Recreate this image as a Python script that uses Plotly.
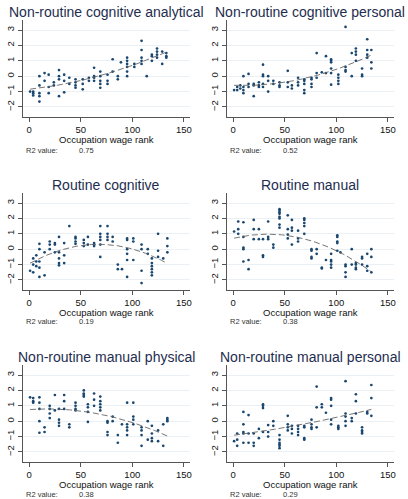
import numpy as np
import plotly.graph_objects as go

titles = ["Non-routine cognitive analytical", "Non-routine cognitive personal",
          "Routine cognitive", "Routine manual",
          "Non-routine manual physical", "Non-routine manual personal"]
r2_values = ["0.75", "0.52", "0.19", "0.38", "0.38", "0.29"]
x_ticks = [0, 50, 100, 150]
y_ticks = [-2, -1, 0, 1, 2, 3]

# (occupation wage rank, [task scores])
nrca_cols = [(1, [-1.0]), (4, [-1.0, -1.1, -1.25]), (10, [0.0, -0.6, -1.1, -1.3, -1.65]),
             (15, [0.2, -0.3]), (19, [0.1, -0.7, -1.1]), (24, [-0.4, -0.6]),
             (29, [0.4, 0.0, -0.2, -1.3]), (34, [0.1, -0.3, -1.05]), (39, [-0.1, -0.5]),
             (45, [-0.2, -0.4, -0.6, -0.75]), (52, [-0.2, -0.5, -0.85]), (58, [-0.1, -0.3]),
             (63, [0.55, 0.0, -0.1, -0.3]), (69, [0.3, 0.0, -0.3, -0.5, -0.75]),
             (76, [0.1, -0.3, -0.5]), (81, [1.1, 0.3]), (86, [0.0, -0.2]), (89, [0.9]),
             (95, [1.2, 1.0, 0.8, 0.6, 0.3, 0.0]), (102, [0.8, 0.6]),
             (109, [2.3, 1.7, 1.2, 1.0, 0.8]), (114, [0.0]), (119, [1.4, 1.3, 1.0]),
             (124, [1.8, 1.6, 1.4, 1.2]), (129, [1.6, 0.8]), (133, [1.5, 1.3, 1.2])]
nrcp_cols = [(1, [-0.9]), (4, [-0.7, -0.9]), (7, [-0.6, -0.8]), (10, [0.0, -0.7, -0.9, -1.1]),
             (15, [0.15, -0.5, -0.7]), (20, [-0.5, -0.6, -1.3]), (25, [-0.4, -0.6, -0.7]),
             (29, [0.75, 0.1, 0.0, -0.5, -0.7]), (34, [0.0, -0.3, -1.0]), (39, [-0.3, -0.5]),
             (45, [-0.4, -0.6, -0.7]), (53, [0.35, -0.4, -0.7]), (57, [-0.6, -0.8]),
             (63, [-0.1, -0.4, -0.6]), (69, [-0.2, -0.3, -0.5, -0.9, -1.1]),
             (76, [-0.1, -0.2, -0.5, -0.7]), (81, [1.5, 0.2, -0.1]), (86, [0.25]),
             (90, [1.3, 0.2]), (95, [1.1, 1.0, 0.9, 0.5, 0.2, -0.55]),
             (102, [0.1, -0.1, -0.3, -0.5]), (109, [3.2, 0.6, 0.4, 0.3]), (115, [1.5, 0.0]),
             (119, [1.8, 1.6, 1.4, 1.0]), (125, [0.5, 0.1, 0.0]), (130, [2.4, 1.7, 1.4, 1.2]),
             (134, [1.7, 0.9, 0.5])]
rc_cols = [(1, [-1.4]), (4, [-0.6, -1.0, -1.5]), (7, [-0.4, -0.8, -1.1]),
           (10, [0.35, 0.0, -0.8, -1.2, -1.8]), (15, [-0.2, -1.7]), (20, [0.5, 0.3, 0.0]),
           (25, [0.4, 0.3, -0.2]), (29, [0.8, -0.2, -0.6, -0.9, -1.05]), (34, [0.4, -0.4, -0.9]),
           (39, [1.5]), (45, [0.8, 0.7, 0.5, 0.35]), (53, [0.6, 0.4, 0.2]), (57, [0.8, 0.3]),
           (63, [0.4, 0.3, 0.2]), (69, [1.5, 1.0, 0.8, 0.6, 0.3, -0.5]),
           (76, [1.5, 1.0, 0.8, 0.6]), (81, [0.8, 0.5]), (86, [-1.0, -1.3]), (90, [-1.3]),
           (95, [0.7, 0.6, 0.0, -0.3, -0.7, -1.8]), (101, [0.7, 0.5, -0.7]),
           (109, [0.3, 0.0, -1.4, -2.2]), (115, [0.0, -0.3]),
           (119, [-0.6, -0.9, -1.1, -1.3, -1.5, -1.7]), (125, [1.0, -0.1, -0.5]),
           (130, [-0.6]), (134, [0.7, 0.2, -0.2])]
rm_cols = [(1, [1.15]), (5, [1.8, 1.3, 1.0]), (10, [1.75, 0.8, 0.1, 0.0, -0.8]),
           (15, [-0.7, -1.3]), (20, [1.9, 1.3, 0.65]), (25, [1.3, 0.65]),
           (29, [0.65, -0.4, -0.5]), (34, [1.8, 0.8, 0.65]), (39, [0.3, 0.1]),
           (45, [2.6, 2.5, 2.4, 2.3, 2.1, 2.0, 1.6, 1.4]), (53, [2.2, 1.3, 0.95, 0.7]),
           (57, [1.9, 1.4, 1.2, 0.3]), (63, [1.2, 0.7, 0.5]), (69, [2.0, 1.9, 1.7, 1.5, 1.0]),
           (76, [0.0, -0.1, -0.5, -0.6]), (81, [0.0, -0.3]), (86, [-1.2, -1.25]), (90, [-0.7]),
           (95, [-0.3, -0.7, -0.8, -1.0, -1.2]), (101, [0.9, 0.8, 0.5, 0.4, -0.1]),
           (104, [-0.2]), (109, [-1.0, -1.1, -1.5, -1.8]), (115, [0.0, -1.0]),
           (119, [-0.9, -1.0, -1.2, -1.3]), (125, [-0.5, -0.6, -1.0]),
           (130, [-0.3, -1.1, -1.4]), (134, [0.0, -0.5, -1.5])]
nrmph_cols = [(1, [1.55]), (4, [1.5, 1.3, 1.2]), (10, [1.55, 1.2, 0.8, 0.0, -0.75]),
              (15, [-0.4, -0.7]), (20, [1.0, 0.8, 0.5, 0.2]), (25, [1.7, 0.7]),
              (29, [0.8, 0.1, -0.1, -0.3]), (34, [1.7, 1.3, 0.8]), (39, [-0.2, -0.4]),
              (45, [1.2, 1.0, 0.8, 0.7]), (53, [2.0, 1.8, 1.7, 1.6]), (57, [1.1, 0.9, 0.6, -0.05]),
              (63, [1.8, 1.4, 1.0]), (69, [1.6, 1.3, 1.1, 0.9, 0.7]),
              (76, [0.0, -0.1, -0.7, -0.9]), (81, [0.3, 0.0]), (86, [-0.9, -1.4]), (90, [-0.2]),
              (95, [1.2, -0.2, -0.4, -0.6, -0.9]), (101, [1.2, 0.3, 0.1, -0.2]),
              (109, [-0.4, -0.6, -0.9, -1.6]), (115, [0.0, -1.2]),
              (119, [-0.3, -0.8, -1.1, -1.3]), (125, [-0.6, -1.3]), (130, [-0.2, -1.6]),
              (134, [0.2, 0.1, 0.0])]
nrmpe_cols = [(1, [-1.3]), (4, [-0.8, -1.2, -1.6]), (10, [0.6, -0.2, -0.7, -0.8, -1.4]),
              (15, [0.4, -0.8, -1.4]), (20, [-0.8, -1.4, -1.6]), (25, [-0.5, -1.1]),
              (29, [1.1, 1.0, 0.85, -0.7]), (34, [-0.25, -0.7, -1.0]), (39, [0.0, -0.3]),
              (45, [-0.9, -1.2, -1.4, -1.5, -1.6, -1.75]), (53, [0.35, -0.2, -0.4, -0.6]),
              (57, [-0.3, -0.5, -0.8]), (63, [-0.3, -0.5, -0.7, -0.9]),
              (69, [-0.3, -0.4, -1.1, -1.2]), (76, [0.1, -0.2, -0.4, -0.5]),
              (81, [2.25, 0.9, -0.4]), (86, [1.1, 0.9]), (90, [0.55]),
              (95, [1.5, 1.4, 1.0, 0.1, -0.2]), (102, [-0.3, -0.4, -0.5]),
              (109, [2.6, 0.5, 0.3, 0.0, -0.3]), (115, [0.2, 0.0]), (119, [1.75, 1.3, 0.5]),
              (125, [-0.4, -0.6, -0.7, -0.8]), (130, [0.6, 0.5]), (134, [2.35, 1.5, 0.35])]

panels = [nrca_cols, nrcp_cols, rc_cols, rm_cols, nrmph_cols, nrmpe_cols]

W, H = 408, 499
col_px = [(23, 191), (228, 396)]
row_px = [(20, 117), (193, 290), (365, 462)]
title_y = [12, 185, 357]
xtitle_y = [139.5, 312, 484.5]
r2_y = [150.5, 321.5, 494]
r2_label_x = [25, 230]
r2_val_x = [78, 283]

MARK = "#1a476f"
TITLE_C = "#1e2d4f"
AX_C = "#555555"
GRID_C = "#eaf0f3"
FONT = "Liberation Sans, Arial, sans-serif"

fig = go.Figure()
annotations = []
for i, cols in enumerate(panels):
    r, c = divmod(i, 2)
    xs = np.array([x for x, ys in cols for _ in ys], dtype=float)
    ys = np.array([y for _, yl in cols for y in yl], dtype=float)
    ax = "" if i == 0 else str(i + 1)
    coef = np.polyfit(xs, ys, 2)
    fx = np.linspace(xs.min(), xs.max(), 120)
    fy = np.polyval(coef, fx)
    fig.add_trace(go.Scatter(x=xs, y=ys, mode="markers",
                             marker=dict(size=2.7, color=MARK, line=dict(width=0)),
                             xaxis="x" + ax, yaxis="y" + ax, showlegend=False,
                             hoverinfo="skip"))
    fig.add_trace(go.Scatter(x=fx, y=fy, mode="lines",
                             line=dict(color="#666666", width=0.9, dash="6px,3px"),
                             xaxis="x" + ax, yaxis="y" + ax, showlegend=False,
                             hoverinfo="skip"))
    x0, x1 = col_px[c]
    y0, y1 = row_px[r]
    fig.layout["xaxis" + ax] = dict(
        domain=[x0 / W, x1 / W], range=[-6, 156], anchor="y" + ax,
        tickvals=x_ticks, ticks="outside", ticklen=4, tickcolor=AX_C,
        showline=True, linecolor=AX_C, linewidth=1, showgrid=False, zeroline=False,
        tickfont=dict(size=9.5, color="#111111", family=FONT), fixedrange=True)
    fig.layout["yaxis" + ax] = dict(
        domain=[1 - y1 / H, 1 - y0 / H], range=[-2.65, 3.65], anchor="x" + ax,
        tickvals=y_ticks, ticks="outside", ticklen=4, tickcolor=AX_C, tickangle=-90,
        showline=True, linecolor=AX_C, linewidth=1, showgrid=True, gridcolor=GRID_C,
        gridwidth=1, zeroline=False,
        tickfont=dict(size=9.5, color="#111111", family=FONT), fixedrange=True)
    xc = (x0 + x1) / 2
    annotations.append(dict(text=titles[i], x=xc / W, y=1 - title_y[r] / H,
                            xref="paper", yref="paper", xanchor="center", yanchor="middle",
                            showarrow=False, font=dict(size=14, color=TITLE_C, family=FONT)))
    annotations.append(dict(text="Occupation wage rank", x=xc / W, y=1 - xtitle_y[r] / H,
                            xref="paper", yref="paper", xanchor="center", yanchor="middle",
                            borderpad=0,
                            showarrow=False, font=dict(size=9.5, color="#111111", family=FONT)))
    annotations.append(dict(text="R2 value:", x=r2_label_x[c] / W, y=1 - r2_y[r] / H,
                            xref="paper", yref="paper", xanchor="left", yanchor="middle",
                            borderpad=0,
                            showarrow=False, font=dict(size=7.5, color="#333333", family=FONT)))
    annotations.append(dict(text=r2_values[i], x=r2_val_x[c] / W, y=1 - r2_y[r] / H,
                            xref="paper", yref="paper", xanchor="left", yanchor="middle",
                            borderpad=0,
                            showarrow=False, font=dict(size=7.5, color="#333333", family=FONT)))

fig.update_layout(width=W, height=H, margin=dict(l=0, r=0, t=0, b=0),
                  paper_bgcolor="white", plot_bgcolor="white",
                  annotations=annotations, showlegend=False)
fig.write_html("out.html", config={"displayModeBar": False},
               post_script="document.body.style.margin='0';document.body.style.overflow='hidden';")
